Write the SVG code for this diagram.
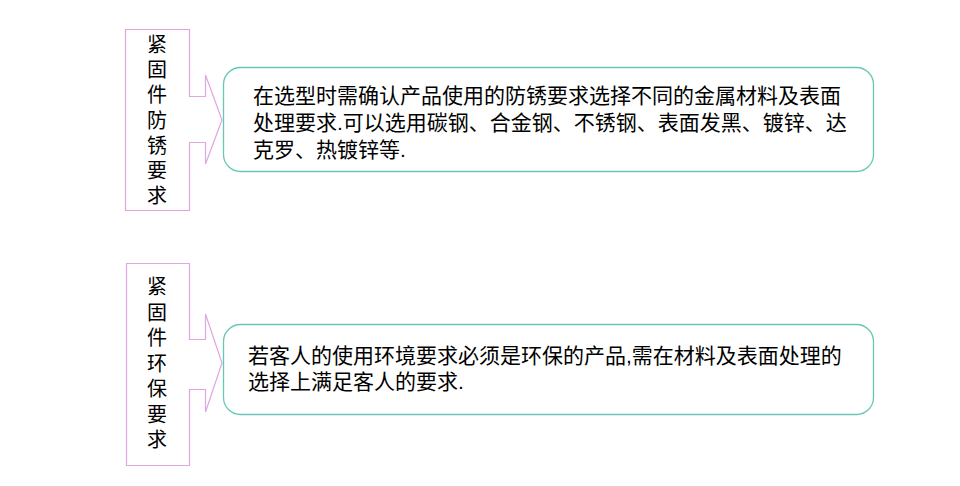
<svg xmlns="http://www.w3.org/2000/svg" width="960" height="486" viewBox="0 0 960 486">
<style>
.callout{fill:#ffffff;stroke:#dfa6df;stroke-width:1.2}
.box{fill:#ffffff;stroke:#66c8b4;stroke-width:1.3}
.t{font-family:"Liberation Sans","Noto Sans CJK SC",sans-serif;font-size:21px;fill:#000000}
.v{font-family:"Liberation Sans","Noto Sans CJK SC",sans-serif;font-size:20px;fill:#000000;text-anchor:middle}
</style>
<rect width="960" height="486" fill="#ffffff"/>
<g id="label-antirust">
<path class="callout" d="M125.5,29.5 H189.5 V96.5 H205.5 V75 L222,120 L205.5,164 V142.5 H189.5 V210.5 H125.5 Z"/>
<text class="v" x="157" y="52">紧</text>
<text class="v" x="157" y="77.2">固</text>
<text class="v" x="157" y="102.4">件</text>
<text class="v" x="157" y="127.6">防</text>
<text class="v" x="157" y="152.8">锈</text>
<text class="v" x="157" y="178">要</text>
<text class="v" x="157" y="203.2">求</text>
</g>
<g id="desc-antirust">
<rect class="box" x="223.5" y="67.5" width="650" height="104" rx="17" ry="17"/>
<text class="t" x="253" y="103">在选型时需确认产品使用的防锈要求选择不同的金属材料及表面</text>
<text class="t" x="253" y="130">处理要求.可以选用碳钢、合金钢、不锈钢、表面发黑、镀锌、达</text>
<text class="t" x="253" y="157">克罗、热镀锌等.</text>
</g>
<g id="label-eco">
<path class="callout" d="M126.5,263.5 H189.5 V339.5 H205.5 V314 L222,363 L205.5,412 V389.5 H189.5 V465.5 H126.5 Z"/>
<text class="v" x="157" y="294">紧</text>
<text class="v" x="157" y="319.5">固</text>
<text class="v" x="157" y="345">件</text>
<text class="v" x="157" y="370.5">环</text>
<text class="v" x="157" y="396">保</text>
<text class="v" x="157" y="421.5">要</text>
<text class="v" x="157" y="447">求</text>
</g>
<g id="desc-eco">
<rect class="box" x="223.5" y="324.5" width="650" height="90" rx="17" ry="17"/>
<text class="t" x="248" y="363">若客人的使用环境要求必须是环保的产品,需在材料及表面处理的</text>
<text class="t" x="248" y="389">选择上满足客人的要求.</text>
</g>
<g id="connectors"></g>
</svg>
